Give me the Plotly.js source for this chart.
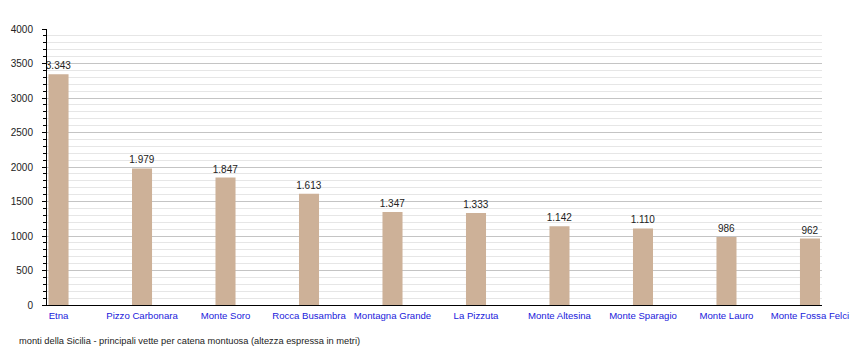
<!DOCTYPE html>
<html>
<head>
<meta charset="utf-8">
<script src="https://cdn.plot.ly/plotly-3.0.1.min.js"></script>
<style>html,body{margin:0;padding:0;background:#fff;}#chart{width:850px;height:352px;}</style>
</head>
<body>
<div id="chart"></div>
<script>
const categories = ["Etna", "Pizzo Carbonara", "Monte Soro", "Rocca Busambra", "Montagna Grande", "La Pizzuta", "Monte Altesina", "Monte Sparagio", "Monte Lauro", "Monte Fossa Felci"];
const heights = [3343, 1979, 1847, 1613, 1347, 1333, 1142, 1110, 986, 962];
const yTicks = [0, 500, 1000, 1500, 2000, 2500, 3000, 3500, 4000];
const caption = "monti della Sicilia - principali vette per catena montuosa (altezza espressa in metri)";

const positions = categories.map((c, i) => i);

const trace = {
  type: "bar",
  x: positions,
  y: heights,
  width: 0.24,
  marker: {color: "#cdb198", line: {width: 0}},
  texttemplate: "%{y:,}",
  textposition: "outside",
  constraintext: "none",
  textfont: {family: "Liberation Sans, Arial, sans-serif", size: 10, color: "#222"},
  cliponaxis: false,
  hoverinfo: "skip"
};

const layout = {
  width: 850, height: 352,
  margin: {l: 47, r: 28, t: 29, b: 47, pad: 0},
  paper_bgcolor: "#fff", plot_bgcolor: "#fff",
  separators: ",.",
  showlegend: false,
  font: {family: "Liberation Sans, Arial, sans-serif", size: 10, color: "#222"},
  xaxis: {
    range: [-0.138, 9.144],
    tickmode: "array",
    tickvals: positions,
    ticktext: categories,
    ticks: "",
    showgrid: false,
    zeroline: false,
    showline: true,
    linecolor: "#000",
    linewidth: 1,
    tickfont: {color: "#1a1adb", size: 9.6},
    ticklabelstandoff: 1,
    ticklabelshift: 0,
    ticklabeloverflow: "allow",
    fixedrange: true
  },
  yaxis: {
    range: [0, 4000],
    tickmode: "array",
    tickvals: yTicks,
    ticks: "outside",
    ticklen: 4,
    tickcolor: "#000",
    tickwidth: 1,
    ticklabelstandoff: 7,
    showline: true,
    linecolor: "#000",
    linewidth: 1,
    showgrid: true,
    gridcolor: "#c4c4c4",
    gridwidth: 1,
    zeroline: false,
    minor: {dtick: 100, ticks: "outside", ticklen: 3, tickcolor: "#000", showgrid: true, gridcolor: "#e6e6e6", gridwidth: 1},
    tickfont: {size: 10, color: "#222"},
    fixedrange: true
  },
  annotations: [{
    text: caption,
    xref: "paper", yref: "paper",
    x: -0.039, y: -0.13,
    xanchor: "left", yanchor: "middle",
    showarrow: false,
    font: {size: 9.3, color: "#222"}
  }]
};

Plotly.newPlot("chart", [trace], layout, {displayModeBar: false, staticPlot: true});
</script>
</body>
</html>
